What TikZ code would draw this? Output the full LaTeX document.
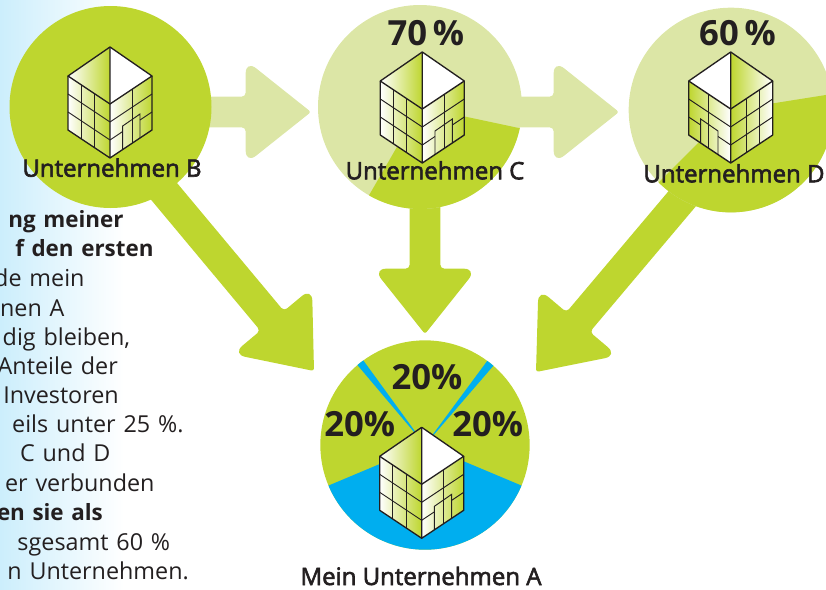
\documentclass[tikz,border=0pt]{standalone}
\usepackage{fontspec}
\setmainfont[WordSpace=1.3]{Open Sans}
\newfontfamily\labelfont[FakeBold=2.5]{Open Sans}
\usetikzlibrary{calc}

\definecolor{leaf}{RGB}{190,214,47}
\definecolor{paleleaf}{RGB}{220,230,166}
\definecolor{sky}{RGB}{0,174,239}
\definecolor{ice}{RGB}{204,238,252}
\definecolor{ink}{RGB}{35,31,32}

\tikzset{every picture/.style={line width=0.75pt}}
\tikzset{
	disc/.style={circle,inner sep=0pt,draw=none},
	labeltext/.style={anchor=base,inner sep=0pt,text=ink,font=\labelfont\fontsize{18}{20}\selectfont},
	bodytext/.style={anchor=base east,inner sep=0pt,text=ink,font=\fontsize{17.5}{20}\selectfont},
	boldtext/.style={anchor=base east,inner sep=0pt,text=ink,font=\bfseries\fontsize{16.8}{20}\selectfont},
	sharetext/.style={anchor=base,inner sep=0pt,text=ink,font=\bfseries\fontsize{26}{30}\selectfont},
	wall/.style={draw=ink,line width=1pt,line join=round},
	grid/.style={draw=ink,line width=0.7pt}
}

% block arrow: colour, start, tip
\newcommand{\blockarrow}[3]{%
	\coordinate (hb) at ($(#3)!49pt!(#2)$);
	\fill[#1,rounded corners=3pt]
	($(#2)!11.5pt!90:(#3)$) -- ($(hb)!11.5pt!-90:(#2)$) [rounded corners=10pt] -- ($(hb)!39pt!-90:(#2)$) [rounded corners=2pt] -- (#3) [rounded corners=10pt] -- ($(hb)!39pt!90:(#2)$) [rounded corners=3pt] -- ($(hb)!11.5pt!90:(#2)$) -- ($(#2)!11.5pt!-90:(#3)$) -- cycle ;
}

% building: x, y, xscale, colour at left, colour at right
\newcommand{\building}[5]{%
	\begin{scope}[shift={(#1,#2)},xscale=#3]
	\shade[left color=#4,right color=#5] (0,0) -- (-42,-28) -- (-42,26) -- (0,54) -- cycle ;
	\shade[left color=#4,right color=#5] (0,0) -- (42,-28) -- (42,26) -- (0,54) -- cycle ;
	\shade[left color=#4,right color=#5] (0,0) -- (-42,-28) -- (0,-57) -- cycle ;
	\fill[white] (0,0) -- (42,-28) -- (0,-57) -- cycle ;
	% left face
	\draw[grid] (0,18) -- (-42,-10) (0,36) -- (-42,8) ;
	\draw[grid] (-15.7,-10.5) -- (-15.7,43.5) (-29,-19.3) -- (-29,34.7) ;
	% right face
	\draw[grid] (0,18) -- (42,-10) (0,36) -- (12.7,27.5) (30,16) -- (42,8) ;
	\draw[grid] (22,-14.7) -- (22,39.3) ;
	\draw[grid] (12.7,45.5) -- (12.7,22) -- (30,10) -- (30,34) ;
	% outline
	\draw[wall] (0,0) -- (-42,-28) -- (0,-57) -- (42,-28) -- cycle ;
	\draw[wall] (-42,-28) -- (-42,26) -- (0,54) -- (42,26) -- (42,-28) (0,-57) -- (0,54) ;
	\end{scope}
}

\begin{document}
\begin{tikzpicture}[x=0.75pt,y=0.75pt,yscale=-1,xscale=1]
	\path[use as bounding box,clip] (0,0) rectangle (826,590);

	%Shape: Background
	\shade[left color=ice,right color=white] (0,0) rectangle (124,590);

	% Coordinates of the arrows
	\coordinate (startBC) at (190,112);
	\coordinate (tipBC) at (311,112);
	\coordinate (startCD) at (500,112);
	\coordinate (tipCD) at (619,112);
	\coordinate (startBA) at (132,153);
	\coordinate (tipBA) at (314,371);
	\coordinate (startCA) at (425,150);
	\coordinate (tipCA) at (425,334);
	\coordinate (startDA) at (698,180);
	\coordinate (tipDA) at (536,372);

	%Shape: Arrows
	\blockarrow{paleleaf}{startBC}{tipBC}
	\blockarrow{paleleaf}{startCD}{tipCD}
	\blockarrow{leaf}{startBA}{tipBA}
	\blockarrow{leaf}{startCA}{tipCA}
	\blockarrow{leaf}{startDA}{tipDA}

	%Shape: Circles
	\node[disc,fill=leaf,minimum size=151.5pt] (discB) at (110.5,107) {};
	\node[disc,fill=paleleaf,minimum size=153pt] (discC) at (420,107) {};
	\node[disc,fill=paleleaf,minimum size=153.5pt] (discD) at (731,110) {};
	\node[disc,fill=leaf,minimum size=157pt] (discA) at (425,445) {};

	%Shape: Sectors
	\fill[leaf] (discC.center) -- +(12:102) arc[start angle=12,end angle=120,radius=102] -- cycle ;
	\fill[leaf] (discD.center) -- +(-9:102.4) arc[start angle=-9,end angle=135,radius=102.4] -- cycle ;
	\fill[sky] (discA.center) -- +(22.8:104.7) arc[start angle=22.8,end angle=157.2,radius=104.7] -- cycle ;
	\fill[sky] (discA.center) -- +(-130.2:104.7) arc[start angle=-130.2,end angle=-126.1,radius=104.7] -- cycle ;
	\fill[sky] (discA.center) -- +(-53.5:104.7) arc[start angle=-53.5,end angle=-49.2,radius=104.7] -- cycle ;

	%Shape: Buildings
	\building{110}{104}{1}{white}{leaf}
	\building{422.3}{109}{1}{white}{leaf}
	\building{730.7}{109}{-1}{leaf}{white}
	\building{421.7}{484.3}{1}{white}{leaf}

	% Text Node
	\draw (112,176.7) node (labelB) [labeltext] {Unternehmen B};
	\draw (435,179.3) node (labelC) [labeltext] {Unternehmen C};
	\draw (734,182.3) node (labelD) [labeltext] {Unternehmen D};
	\draw (421,585) node (labelA) [labeltext] {Mein Unternehmen A};
	% Text Node
	\draw (425.8,45) node (shareC) [sharetext] {70\,\%};
	\draw (737.5,45) node (shareD) [sharetext] {60\,\%};
	\draw (427,389.3) node (shareTop) [sharetext] {20\%};
	\draw (359.8,436.7) node (shareLeft) [sharetext] {20\%};
	\draw (487.8,436.7) node (shareRight) [sharetext] {20\%};
	% Text Node
	\foreach \rx/\by/\sty/\txt [count=\i] in {
		124/227.3/boldtext/ng meiner,
		154/256.7/boldtext/f den ersten,
		85/286.7/bodytext/de mein,
		65/316/bodytext/nen A,
		130.7/345/bodytext/{dig bleiben,},
		118.3/374.3/bodytext/Anteile der,
		119.3/403.3/bodytext/Investoren,
		184/432.7/bodytext/eils unter 25 \%.,
		111/461.7/bodytext/C und D,
		155/491.7/bodytext/er verbunden,
		103.3/520.7/boldtext/en sie als,
		170.7/550/bodytext/sgesamt 60 \%,
		189.3/579.3/bodytext/n Unternehmen.}
		\draw (\rx,\by) node (line\i) [\sty] {\txt};

\end{tikzpicture}
\end{document}
